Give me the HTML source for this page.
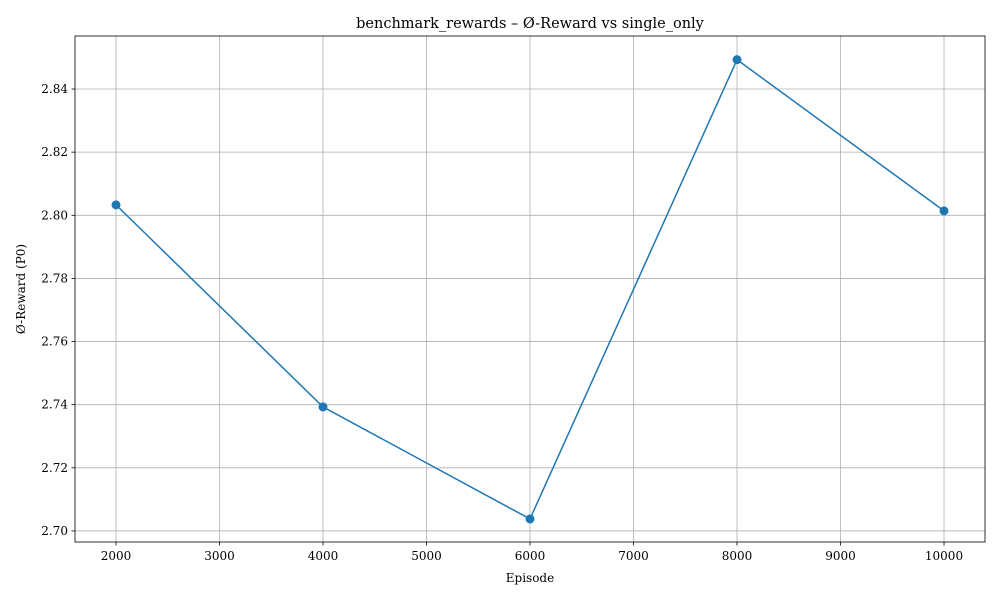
<!DOCTYPE html>
<html><head><meta charset="utf-8"><style>
html,body{margin:0;padding:0;background:#fff;}
svg{display:block;font-family:"DejaVu Serif","Liberation Serif",serif;}
</style></head><body>
<svg id="chart" width="1000" height="600"></svg>
<script>
const episodes = [2000, 4000, 6000, 8000, 10000];
const rewards = [2.8033, 2.7393, 2.7038, 2.8493, 2.8014];
const xTicks = [2000, 3000, 4000, 5000, 6000, 7000, 8000, 9000, 10000];
const yTicks = [2.70, 2.72, 2.74, 2.76, 2.78, 2.80, 2.82, 2.84];

const L=75,R=985,T=36,B=542;
const xMin=1604,xMax=10396,yMin=2.6965,yMax=2.8568;
const sx=v=>L+(v-xMin)/(xMax-xMin)*(R-L);
const sy=v=>B-(v-yMin)/(yMax-yMin)*(B-T);
const NS="http://www.w3.org/2000/svg";
const svg=document.getElementById('chart');
function mk(tag,attrs,parent){const e=document.createElementNS(NS,tag);for(const k in attrs)e.setAttribute(k,attrs[k]);(parent||svg).appendChild(e);return e;}

const grid=mk('g',{});


xTicks.forEach(t=>{
  const x=sx(t);
  const gl=mk('line',{x1:x,x2:x,y1:T,y2:B,stroke:'#b0b0b0','stroke-width':0.8},grid);
  
  
  const tk=mk('line',{x1:x,x2:x,y1:B,y2:B+3.5,stroke:'#000','stroke-width':0.8});
  
  
  const tl=mk('text',{x:x,y:B+18,'text-anchor':'middle','font-size':12,fill:'#000'});
  tl.textContent=t;
  
  
});
yTicks.forEach(t=>{
  const y=sy(t);
  const gl=mk('line',{x1:L,x2:R,y1:y,y2:y,stroke:'#b0b0b0','stroke-width':0.8},grid);
  
  
  const tk=mk('line',{x1:L-3.5,x2:L,y1:y,y2:y,stroke:'#000','stroke-width':0.8});
  
  
  const tl=mk('text',{x:L-7,y:y+4,'text-anchor':'end','font-size':12,fill:'#000'});
  tl.textContent=t.toFixed(2);
  
  
});

const line=mk('polyline',{points:episodes.map((e,i)=>sx(e)+','+sy(rewards[i])).join(' '),fill:'none',stroke:'#1f77b4','stroke-width':1.5});


episodes.forEach((e,i)=>{
  const c=mk('circle',{cx:sx(e),cy:sy(rewards[i]),r:4.5,fill:'#1f77b4'});
  
  
});

const frame=mk('rect',{x:L,y:T,width:R-L,height:B-T,fill:'none',stroke:'#000','stroke-width':0.8});



const title=mk('text',{x:(L+R)/2,y:28,'text-anchor':'middle','font-size':14.5,fill:'#000'});
title.textContent='benchmark_rewards – Ø-Reward vs single_only';



const xt=mk('text',{x:(L+R)/2,y:582,'text-anchor':'middle','font-size':12,fill:'#000'});
xt.textContent='Episode';



const yt=mk('text',{x:0,y:0,'text-anchor':'middle','font-size':12,fill:'#000',transform:'translate(25,'+((T+B)/2)+') rotate(-90)'});
yt.textContent='Ø-Reward (P0)';


</script>
</body></html>
